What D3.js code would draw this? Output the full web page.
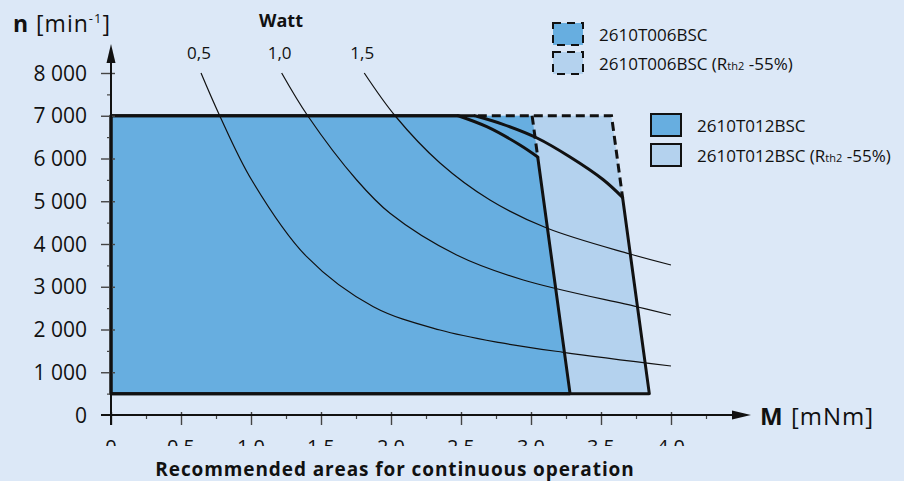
<!DOCTYPE html>
<html><head><meta charset="utf-8">
<script src="https://cdn.jsdelivr.net/npm/d3@7"></script>
<style>html,body{margin:0;padding:0;background:#dce8f7;} svg{display:block;font-family:"Open Sans","Noto Sans",sans-serif;}</style>
</head><body>
<svg id="c" width="904" height="481"></svg>
<script>
// ---- data ----
const xTicks = [0, 0.5, 1, 1.5, 2, 2.5, 3, 3.5, 4];
const xTickLabels = ["0", "0,5", "1,0", "1,5", "2,0", "2,5", "3,0", "3,5", "4,0"];
const xMinorTicks = [0.25, 0.75, 1.25, 1.75, 2.25, 2.75, 3.25, 3.75, 4.25];
const yTicks = [0, 1000, 2000, 3000, 4000, 5000, 6000, 7000, 8000];
const yTickLabels = ["0", "1 000", "2 000", "3 000", "4 000", "5 000", "6 000", "7 000", "8 000"];
const yMinorTicks = [500, 1500, 2500, 3500, 4500, 5500, 6500, 7500];
const powerLabels = ["0,5", "1,0", "1,5"];
// power curves [M mNm, n rpm]
const power05 = [[0.643,8000],[0.774,7020],[1.005,5497],[1.398,3703],[1.874,2533],[2.35,1988],[2.779,1691],[3.231,1467],[4.0,1146]];
const power10 = [[1.219,8000],[1.405,7000],[1.755,5497],[1.993,4718],[2.469,3743],[2.945,3158],[3.755,2533],[4.0,2339]];
const power15 = [[1.809,8000],[2.029,7000],[2.35,5895],[2.707,5029],[3.112,4374],[3.707,3766],[4.0,3509]];
// operating areas
const area006 = [[0,500],[0,7000],[3.008,7000],[3.279,500]];
const area006R = [[0,500],[0,7000],[3.575,7000],[3.845,500]];
const curve012 = [[2.48,7000],[2.684,6744],[2.921,6316],[3.048,6035]];
const edge012 = [[3.048,6035],[3.279,500],[0,500],[0,7000],[2.48,7000]];
const curve012R = [[2.6,7000],[2.8,6800],[3.043,6480],[3.279,6035],[3.514,5509],[3.654,5092]];
const edge012R = [[3.654,5092],[3.845,500],[0,500],[0,7000],[2.6,7000]];
const dash006 = [[3.008,7000],[3.048,6035]];
const dash006R = [[2.62,7000],[3.575,7000],[3.654,5092]];
const legendNames = ["2610T006BSC", "2610T006BSC", "2610T012BSC", "2610T012BSC"];
const legendRth = [false, true, false, true];

// ---- drawing ----
const W = 904, H = 481;
const svg = d3.select("#c");
const col = {bg:"#dce8f7", dark:"#67aee0", light:"#b4d2ee"};
svg.append("rect").attr("width", W).attr("height", H).attr("fill", col.bg);

const x = d3.scaleLinear().domain([0, 4]).range([111, 671]);
const y = d3.scaleLinear().domain([0, 8000]).range([415, 73]);

const lin = d3.line().x(d => x(d[0])).y(d => y(d[1]));
const smooth = d3.line().x(d => x(d[0])).y(d => y(d[1])).curve(d3.curveCatmullRom.alpha(0.5));

// fills
svg.append("path").attr("d", lin(area006R) + "Z").attr("fill", col.light);
svg.append("path").attr("d", lin(area006) + "Z").attr("fill", col.dark);

// power curves
[power05, power10, power15].forEach(p => {
  svg.append("path").attr("d", smooth(p)).attr("fill", "none").attr("stroke", "#111").attr("stroke-width", 1.2);
});

// dashed outlines
[dash006, dash006R].forEach(p => {
  svg.append("path").attr("d", lin(p)).attr("fill", "none").attr("stroke", "#111")
    .attr("stroke-width", 3).attr("stroke-dasharray", "9,5");
});
// solid outlines
[[edge012, curve012], [edge012R, curve012R]].forEach(([e, c]) => {
  svg.append("path").attr("d", lin(e)).attr("fill", "none").attr("stroke", "#111")
    .attr("stroke-width", 3).attr("stroke-linejoin", "round");
  svg.append("path").attr("d", smooth(c)).attr("fill", "none").attr("stroke", "#111")
    .attr("stroke-width", 3).attr("stroke-linecap", "round");
});

// axes
svg.append("clipPath").attr("id", "clipx")
  .append("rect").attr("x", 0).attr("y", 0).attr("width", W).attr("height", 446);

const gx = svg.append("g").attr("transform", "translate(0,415)");
gx.call(d3.axisBottom(x).tickValues(xTicks).tickSize(10).tickFormat(""));
gx.select(".domain").remove();
gx.selectAll(".tick line").attr("y1", -3).attr("stroke", "#444").attr("stroke-width", 1.4);
const gxl = svg.append("g").attr("clip-path", "url(#clipx)");
gxl.selectAll("text").data(xTicks).join("text")
  .attr("x", d => x(d)).attr("y", 454).attr("text-anchor", "middle")
  .attr("fill", "#111").style("font-size", "20px")
  .text((d, i) => xTickLabels[i]);

const gxm = svg.append("g").attr("transform", "translate(0,415)");
gxm.call(d3.axisBottom(x).tickValues(xMinorTicks).tickSize(4).tickFormat(""));
gxm.select(".domain").remove();
gxm.selectAll(".tick line").attr("stroke", "#444").attr("stroke-width", 1.2);

const gy = svg.append("g").attr("transform", "translate(111,0)");
gy.call(d3.axisLeft(y).tickValues(yTicks).tickSize(10).tickPadding(14).tickFormat((d, i) => yTickLabels[i]));
gy.select(".domain").remove();
gy.selectAll(".tick line").attr("x1", 4).attr("stroke", "#444").attr("stroke-width", 1.4);
gy.selectAll(".tick text").attr("fill", "#111").style("font-size", "21px")
  .style("font-family", '"Open Sans",sans-serif').attr("dy", "0.34em");
gy.selectAll(".tick").filter(d => d === 0).select("line").remove();

const gym = svg.append("g").attr("transform", "translate(111,0)");
gym.call(d3.axisLeft(y).tickValues(yMinorTicks).tickSize(4).tickFormat(""));
gym.select(".domain").remove();
gym.selectAll(".tick line").attr("stroke", "#444").attr("stroke-width", 1.2);

// axis lines + arrows
svg.append("line").attr("x1", 111).attr("x2", 111).attr("y1", 425).attr("y2", 58)
  .attr("stroke", "#111").attr("stroke-width", 2);
svg.append("path").attr("d", "M111,44L106.5,63L115.5,63Z").attr("fill", "#111");
svg.append("line").attr("x1", 101).attr("x2", 737).attr("y1", 415).attr("y2", 415)
  .attr("stroke", "#111").attr("stroke-width", 2);
svg.append("path").attr("d", "M751,415L732,410.5L732,419.5Z").attr("fill", "#111");

// axis titles
const ny = svg.append("text").attr("x", 13).attr("y", 32).attr("fill", "#111")
  .style("font-size", "23px").style("letter-spacing", "1px");
ny.append("tspan").style("font-weight", "bold").text("n");
ny.append("tspan").text(" [min");
ny.append("tspan").attr("dy", -9).style("font-size", "13px").text("-1");
ny.append("tspan").attr("dy", 9).text("]");

const mx = svg.append("text").attr("x", 760).attr("y", 425).attr("fill", "#111")
  .style("font-size", "24px").style("letter-spacing", "1px");
mx.append("tspan").style("font-weight", "bold").text("M");
mx.append("tspan").text(" [mNm]");

svg.append("text").attr("x", 395).attr("y", 475.5).attr("text-anchor", "middle")
  .attr("fill", "#111").style("font-size", "19px").style("font-weight", "bold")
  .style("letter-spacing", "0.9px")
  .text("Recommended areas for continuous operation");

// Watt labels
svg.append("text").attr("x", 281).attr("y", 27).attr("text-anchor", "middle")
  .attr("fill", "#111").style("font-size", "18px").style("font-weight", "bold").text("Watt");
[power05, power10, power15].forEach((p, i) => {
  svg.append("text").attr("x", x(p[0][0]) - 2).attr("y", 59).attr("text-anchor", "middle")
    .attr("fill", "#111").style("font-size", "17px").text(powerLabels[i]);
});

// legend
const legY = [23, 52, 114, 144];
const legX = [553, 553, 651, 651];
legendNames.forEach((name, i) => {
  const dashed = i < 2;
  svg.append("rect").attr("x", legX[i]).attr("y", legY[i]).attr("width", 30).attr("height", 22)
    .attr("fill", (i % 2 === 0) ? col.dark : col.light)
    .attr("stroke", "#111").attr("stroke-width", 2)
    .attr("stroke-dasharray", dashed ? "8,6" : null);
  const t = svg.append("text").attr("x", legX[i] + 46).attr("y", legY[i] + 18)
    .attr("fill", "#111").style("font-size", "17px");
  t.append("tspan").text(name + (legendRth[i] ? " (R" : ""));
  if (legendRth[i]) {
    t.append("tspan").style("font-size", "11px").text("th2");
    t.append("tspan").text(" -55%)");
  }
});
</script>
</body></html>
